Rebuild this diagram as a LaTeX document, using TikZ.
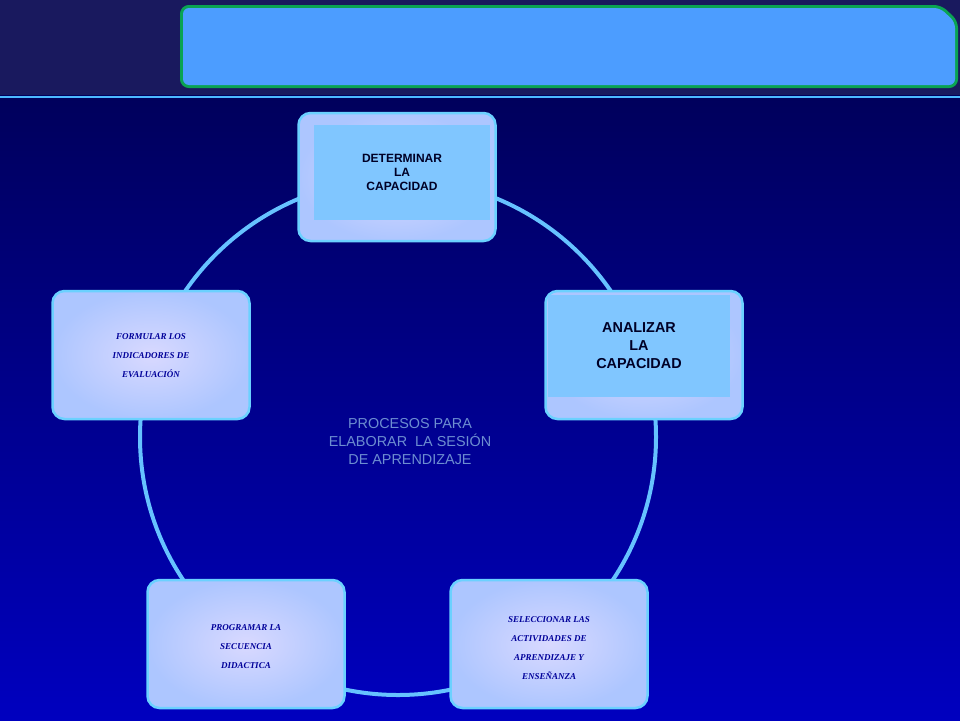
\documentclass[tikz,border=0pt]{standalone}
\usepackage{fontspec}
\setmainfont{Liberation Serif}
\setsansfont{Liberation Sans}
\begin{document}
\begin{tikzpicture}[x=1pt,y=-1pt,
  box/.style={draw=white!70!blue!60!cyan,line width=2.5pt,rounded corners=12pt,inner color=white!85!blue,outer color=blue!20!cyan!15!white!80!blue,minimum width=197pt,minimum height=128pt},
  glow/.style={draw=green!60!cyan,line width=5pt,opacity=0.5,rounded corners=14pt},
  inner/.style={fill=blue!45!cyan!50!white,font=\sffamily\bfseries,text=black!85!blue,align=center},
  ital/.style={font=\rmfamily\bfseries\itshape\small,text=blue!60!black,align=center}]
\useasboundingbox (0,0) rectangle (960,720);
\fill[top color=blue!30!black,bottom color=blue!75!black] (0,0) rectangle (960,720);
\fill[blue!30!black!90] (0,0) rectangle (960,95);
\draw[blue!40!cyan!70!white,line width=2pt] (0,97) -- (960,97);
\draw[green!70!cyan,line width=6pt,opacity=0.6,rounded corners=6pt] (183,8) -- (940,8) -- (955,22) -- (955,85) -- (183,85) -- cycle;
\fill[blue!55!cyan!70!white,rounded corners=6pt] (183,8) -- (940,8) -- (955,22) -- (955,85) -- (183,85) -- cycle;
\node[draw=blue!40!cyan!60!white,line width=4pt,circle,minimum size=516pt] (ring) at (398,437) {};
\node[box] (top) at (397,177) {};
\node[inner,minimum width=176pt,minimum height=95pt,font=\sffamily\bfseries\large] (topt) at (402,172) {DETERMINAR\\LA\\CAPACIDAD};
\node[box] (right) at (644,355) {};
\node[inner,minimum width=182pt,minimum height=102pt,font=\sffamily\bfseries\Large] (rightt) at (639,346) {ANALIZAR\\LA\\CAPACIDAD};
\node[box] (left) at (151,355) {};
\node[ital] (leftt) at (151,356) {FORMULAR LOS\\[8pt]INDICADORES DE\\[8pt]EVALUACIÓN};
\node[box] (bl) at (246,644) {};
\node[ital] (blt) at (246,647) {PROGRAMAR LA\\[8pt]SECUENCIA\\[8pt]DIDACTICA};
\node[box] (br) at (549,644) {};
\node[ital] (brt) at (549,648) {SELECCIONAR LAS\\[8pt]ACTIVIDADES DE\\[8pt]APRENDIZAJE Y\\[8pt]ENSEÑANZA};
\node[font=\sffamily\Large,text=cyan!40!blue!60!white,align=center] (center) at (410,442) {PROCESOS PARA\\ELABORAR\ \ LA SESIÓN\\DE APRENDIZAJE};
\end{tikzpicture}
\end{document}
